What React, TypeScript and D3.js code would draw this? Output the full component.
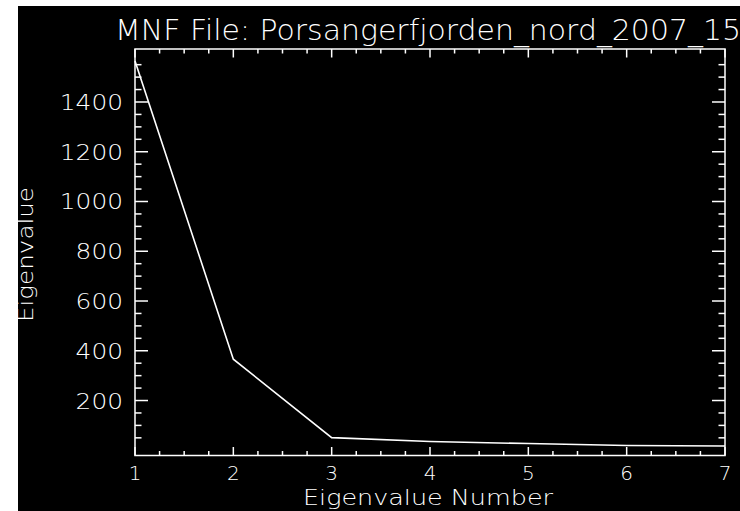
import React from 'react';
import * as d3 from 'd3';

const eigenNumbers = [1, 2, 3, 4, 5, 6, 7];
const eigenValues = [1565, 366, 51, 35, 27, 19, 17];
const xTickValues = [1, 2, 3, 4, 5, 6, 7];
const yTickValues = [200, 400, 600, 800, 1000, 1200, 1400];
const titleText = 'MNF File: Porsangerfjorden_nord_2007_15';
const xLabelText = 'Eigenvalue Number';
const yLabelText = 'Eigenvalue';

const FONT = "'DejaVu Sans', sans-serif";
const WEIGHT = 300;

export default function App() {
  const W = 740;
  const H = 511;
  const left = 135;
  const right = 725;
  const top = 49;
  const bottom = 455.5;

  const x = d3.scaleLinear().domain([1, 7]).range([left, right]);
  const y = d3.scaleLinear().domain([-21, 1613]).range([bottom, top]);

  const line = d3
    .line<number>()
    .x((_, i) => x(eigenNumbers[i]))
    .y((d) => y(d));

  const xMinor = d3.range(5, 28).map((i) => i / 4).filter((v) => !Number.isInteger(v));
  const yMinor = d3.range(1, 32).map((i) => i * 50).filter((v) => v % 200 !== 0);

  const white = '#ffffff';
  const sw = 1.5;

  return (
    <svg
      width={W}
      height={H}
      style={{ position: 'absolute', left: 0, top: 0, display: 'block' }}
    >
      <rect x={0} y={0} width={W} height={H} fill="#ffffff" />
      <rect x={18} y={6} width={W - 18} height={H - 6} fill="#000000" />

      {/* title */}
      <text
        x={115}
        y={40}
        fill={white}
        fontFamily={FONT}
        fontSize={29}
        fontWeight={WEIGHT}
        textLength={626}
        lengthAdjust="spacingAndGlyphs"
      >
        {titleText}
      </text>

      {/* frame */}
      <rect
        x={left}
        y={top}
        width={right - left}
        height={bottom - top}
        fill="none"
        stroke={white}
        strokeWidth={sw}
      />

      {/* x ticks bottom & top */}
      {xTickValues.map((v) => (
        <g key={'xt' + v}>
          <line x1={x(v)} x2={x(v)} y1={bottom} y2={bottom - 8.5} stroke={white} strokeWidth={sw} />
          <line x1={x(v)} x2={x(v)} y1={top} y2={top + 8.5} stroke={white} strokeWidth={sw} />
          <text
            x={x(v)}
            y={479.5}
            fill={white}
            fontFamily={FONT}
            fontWeight={WEIGHT}
            fontSize={20}
            textAnchor="middle"
          >
            {String(v)}
          </text>
        </g>
      ))}
      {xMinor.map((v) => (
        <g key={'xm' + v}>
          <line x1={x(v)} x2={x(v)} y1={bottom} y2={bottom - 4.5} stroke={white} strokeWidth={sw} />
          <line x1={x(v)} x2={x(v)} y1={top} y2={top + 4.5} stroke={white} strokeWidth={sw} />
        </g>
      ))}

      {/* y ticks left & right */}
      {yTickValues.map((v) => (
        <g key={'yt' + v}>
          <line x1={left} x2={left + 13} y1={y(v)} y2={y(v)} stroke={white} strokeWidth={sw} />
          <line x1={right} x2={right - 13} y1={y(v)} y2={y(v)} stroke={white} strokeWidth={sw} />
          <text
            x={123}
            y={y(v) + 8}
            fill={white}
            fontFamily={FONT}
            fontWeight={WEIGHT}
            fontSize={22}
            textAnchor="end"
            textLength={String(v).length * 15.8}
            lengthAdjust="spacingAndGlyphs"
          >
            {String(v)}
          </text>
        </g>
      ))}
      {yMinor.map((v) => (
        <g key={'ym' + v}>
          <line x1={left} x2={left + 6.5} y1={y(v)} y2={y(v)} stroke={white} strokeWidth={sw} />
          <line x1={right} x2={right - 6.5} y1={y(v)} y2={y(v)} stroke={white} strokeWidth={sw} />
        </g>
      ))}

      {/* data line */}
      <path d={line(eigenValues) || ''} fill="none" stroke={white} strokeWidth={1.6} />

      {/* axis labels */}
      <text
        x={303}
        y={504.5}
        fill={white}
        fontFamily={FONT}
        fontWeight={WEIGHT}
        fontSize={22}
        textLength={250}
        lengthAdjust="spacingAndGlyphs"
      >
        {xLabelText}
      </text>
      <text
        transform={`translate(33, 322) rotate(-90)`}
        x={0}
        y={0}
        fill={white}
        fontFamily={FONT}
        fontWeight={WEIGHT}
        fontSize={22}
        textLength={135}
        lengthAdjust="spacingAndGlyphs"
      >
        {yLabelText}
      </text>
    </svg>
  );
}
